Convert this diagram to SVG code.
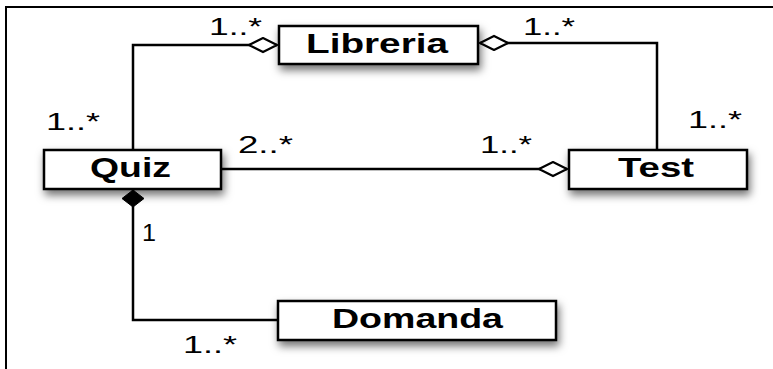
<svg xmlns="http://www.w3.org/2000/svg" width="773" height="369" viewBox="0 0 773 369">
  <style>
    .frame { fill: none; stroke: #000; stroke-width: 2; }
    .box { fill: #fff; stroke: #000; stroke-width: 2.5; filter: url(#shadow); }
    .name { font-family: "Liberation Sans", Arial, sans-serif; font-weight: bold; font-size: 28px; fill: #000; text-anchor: middle; }
    .mult { font-family: "Liberation Sans", Arial, sans-serif; font-size: 23px; fill: #000; }
    .link { fill: none; stroke: #000; stroke-width: 2.5; }
  </style>
  <defs>
    <filter id="shadow" x="-20%" y="-40%" width="140%" height="200%">
      <feDropShadow dx="2" dy="5" stdDeviation="4" flood-color="#000" flood-opacity="0.55"/>
    </filter>
    <!-- hollow diamond: aggregation -->
    <marker id="agg" markerUnits="userSpaceOnUse" markerWidth="32" markerHeight="18" refX="29" refY="8" orient="auto">
      <path d="M1,8 L15,1 L29,8 L15,15 Z" fill="#fff" stroke="#000" stroke-width="2.2"/>
    </marker>
    <!-- filled diamond: composition -->
    <marker id="comp" markerUnits="userSpaceOnUse" markerWidth="20" markerHeight="24" refX="18" refY="12" orient="auto">
      <path d="M1,12 L9.5,1 L18,12 L9.5,23 Z" fill="#000" stroke="#000" stroke-width="1"/>
    </marker>
  </defs>

  <rect width="773" height="369" fill="#fff"/>
  <!-- outer frame -->
  <path class="frame" d="M6,369 L6,7 L773,7"/>

  <g id="connectors">
    <path class="link" d="M133,150 L133,45 L277,45" marker-end="url(#agg)"/>
    <path class="link" d="M657,150 L657,43 L480,43" marker-end="url(#agg)"/>
    <path class="link" d="M221,169 L567,169" marker-end="url(#agg)"/>
    <path class="link" d="M278,320 L133,320 L133,190" marker-end="url(#comp)"/>
  </g>

  <g id="libreria">
    <rect class="box" x="279" y="26" width="199" height="38"/>
    <text class="name" x="377" y="53" textLength="142" lengthAdjust="spacingAndGlyphs">Libreria</text>
  </g>
  <g id="quiz">
    <rect class="box" x="44" y="150" width="177" height="39"/>
    <text class="name" x="130.5" y="177" textLength="81" lengthAdjust="spacingAndGlyphs">Quiz</text>
  </g>
  <g id="test">
    <rect class="box" x="569" y="150" width="178" height="39"/>
    <text class="name" x="656" y="177" textLength="76" lengthAdjust="spacingAndGlyphs">Test</text>
  </g>
  <g id="domanda">
    <rect class="box" x="278" y="301" width="278" height="39"/>
    <text class="name" x="417.5" y="328" textLength="171" lengthAdjust="spacingAndGlyphs">Domanda</text>
  </g>

  <g id="multiplicities">
    <text class="mult" x="209" y="35" textLength="53" lengthAdjust="spacingAndGlyphs">1..*</text>
    <text class="mult" x="523" y="35" textLength="52" lengthAdjust="spacingAndGlyphs">1..*</text>
    <text class="mult" x="46" y="130" textLength="54" lengthAdjust="spacingAndGlyphs">1..*</text>
    <text class="mult" x="688" y="128" textLength="54" lengthAdjust="spacingAndGlyphs">1..*</text>
    <text class="mult" x="238" y="153" textLength="55" lengthAdjust="spacingAndGlyphs">2..*</text>
    <text class="mult" x="480" y="153" textLength="52" lengthAdjust="spacingAndGlyphs">1..*</text>
    <text class="mult" x="142" y="241" textLength="14" lengthAdjust="spacingAndGlyphs">1</text>
    <text class="mult" x="183" y="353" textLength="54" lengthAdjust="spacingAndGlyphs">1..*</text>
  </g>
</svg>
